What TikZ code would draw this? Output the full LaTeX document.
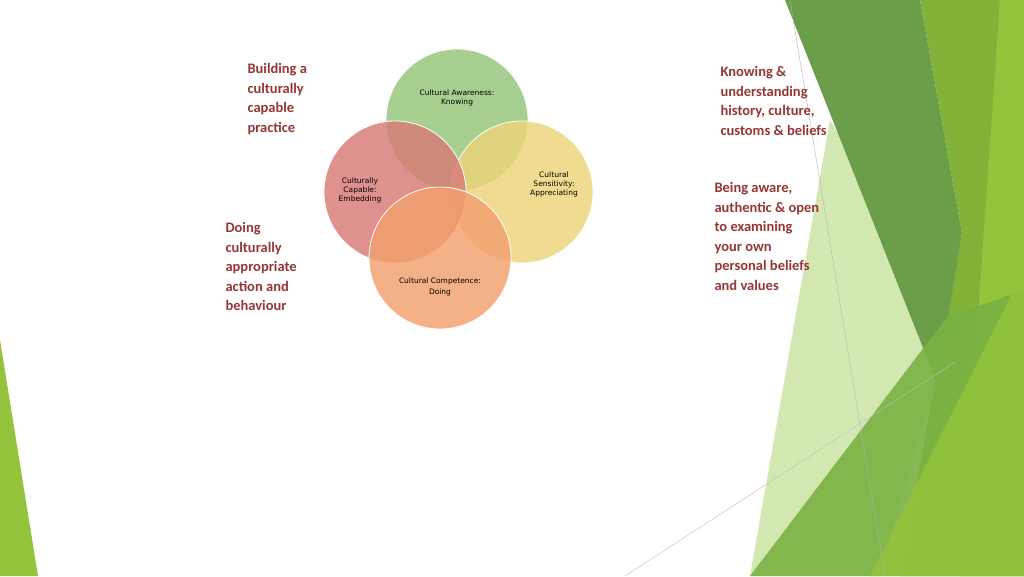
\documentclass[tikz,border=0pt]{standalone}
\usepackage{fontspec}
\setmainfont{Carlito}
\newfontfamily\labelfont{DejaVu Sans}
\definecolor{notered}{HTML}{953735}
\definecolor{awaregreen}{HTML}{93C578}
\definecolor{sensyellow}{HTML}{EDD57A}
\definecolor{capred}{HTML}{D97A74}
\definecolor{compeorange}{HTML}{F2A06E}
\definecolor{palegreen}{HTML}{D3E8B0}
\definecolor{darkgreen}{HTML}{6A9E48}
\definecolor{midgreen}{HTML}{79B243}
\definecolor{olivegreen}{HTML}{82B338}
\definecolor{brightgreen}{HTML}{93C43B}
\tikzset{
	ringstyle/.style={circle, draw=white, line width=0.8pt, fill opacity=0.82, minimum size=142, inner sep=0pt},
	ringlabel/.style={font=\labelfont\fontsize{7.5}{9}\selectfont, align=center, text=black},
	notestyle/.style={anchor=north west, align=left, font=\bfseries\fontsize{14.5}{19.5}\selectfont, text=notered}
}
\begin{document}
\begin{tikzpicture}[x=1pt, y=-1pt]
\useasboundingbox (0,0) rectangle (1024,576);

% background shapes
\fill[white] (0,0) rectangle (1024,576);
\fill[palegreen] (830,120) -- (950,330) -- (880,576) -- (750,576) -- cycle;
\fill[olivegreen] (920,0) -- (1024,0) -- (1024,576) -- (900,576) -- (962,233) -- cycle;
\fill[brightgreen] (1000,0) -- (1024,0) -- (1024,576) -- (960,576) -- cycle;
\fill[darkgreen] (785,0) -- (920,0) -- (962,233) -- (937,383) -- cycle;
\fill[midgreen, opacity=0.9] (947,317) -- (1024,290) -- (1024,576) -- (750,576) -- cycle;
\fill[brightgreen, opacity=0.85] (1024,270) -- (1024,576) -- (870,576) -- cycle;
\fill[brightgreen] (0,340) -- (38,576) -- (0,576) -- cycle;
\draw[gray!60, line width=0.4pt] (790,0) -- (885,576);
\draw[gray!50, line width=0.4pt] (625,576) -- (955,362);

% rings
\node[ringstyle, fill=awaregreen] (aware) at (457,120) {};
\node[ringstyle, fill=sensyellow] (sens) at (522,192) {};
\node[ringstyle, fill=capred] (capable) at (395,192) {};
\node[ringstyle, fill=compeorange] (compe) at (440,258) {};

\node[ringlabel] (awaretxt) at (457,98) {Cultural Awareness:\\Knowing};
\node[ringlabel] (senstxt) at (554,184) {Cultural\\Sensitivity:\\Appreciating};
\node[ringlabel] (captxt) at (360,190) {Culturally\\Capable:\\Embedding};
\node[ringlabel] (competxt) at (440,287) {Cultural Competence:\\[2pt]Doing};

% notes
\node[notestyle] (build) at (244,60) {Building a\\culturally\\capable\\practice};
\node[notestyle] (doing) at (222,219) {Doing\\culturally\\appropriate\\action and\\behaviour};
\node[notestyle] (knowing) at (717,63) {Knowing \&\\understanding\\history, culture,\\customs \& beliefs};
\node[notestyle] (being) at (711,179) {Being aware,\\authentic \& open\\to examining\\your own\\personal beliefs\\and values};
\end{tikzpicture}
\end{document}
